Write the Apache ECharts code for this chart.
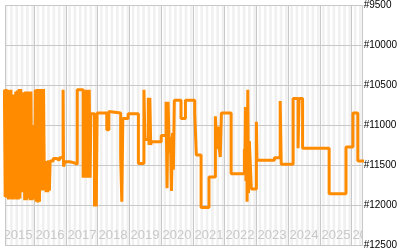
<!DOCTYPE html>
<html>
<head>
<meta charset="utf-8">
<script src="https://cdn.jsdelivr.net/npm/echarts@6/dist/echarts.min.js"></script>
<style>html,body{margin:0;padding:0;background:#fff}#c{width:400px;height:250px}</style>
</head>
<body>
<div id="c"></div>
<script>
const dates = ['2015-01-25','2015-02-03','2015-02-12','2015-02-22','2015-03-03','2015-03-13','2015-03-22','2015-04-01','2015-04-10','2015-04-20','2015-04-28','2015-05-08','2015-05-17','2015-05-27','2015-06-05','2015-06-15','2015-06-24','2015-07-04','2015-07-13','2015-07-23','2015-08-01','2015-08-10','2015-08-19','2015-08-28','2015-09-06','2015-09-16','2015-09-25','2015-10-05','2015-10-14','2015-10-23','2015-10-30','2015-11-04','2015-11-09','2015-11-18','2015-11-27','2015-12-06','2015-12-14','2015-12-22','2015-12-30','2016-01-08','2016-01-16','2016-01-26','2016-02-04','2016-02-14','2016-02-23','2016-03-04','2016-03-13','2016-03-23','2016-04-01','2016-04-11','2016-04-20','2016-04-30','2016-05-09','2016-05-19','2016-05-28','2016-06-07','2016-06-16','2016-06-26','2016-07-05','2016-08-10','2016-09-20','2016-10-20','2016-12-01','2016-12-06','2016-12-20','2017-02-15','2017-03-05','2017-04-01','2017-05-13','2017-07-20','2017-07-30','2017-08-09','2017-08-19','2017-08-29','2017-09-08','2017-09-18','2017-09-28','2017-10-08','2017-10-17','2017-11-28','2017-12-08','2017-12-18','2017-12-28','2018-04-18','2018-05-12','2018-05-25','2018-09-25','2018-10-08','2018-10-20','2018-12-20','2019-04-17','2019-06-20','2019-07-01','2019-08-09','2019-08-18','2019-08-27','2019-09-06','2019-09-15','2020-01-05','2020-03-01','2020-03-12','2020-03-24','2020-04-08','2020-04-20','2020-05-02','2020-05-14','2020-05-24','2020-06-04','2020-08-20','2020-10-10','2021-01-25','2021-02-12','2021-04-08','2021-07-08','2021-09-20','2021-10-05','2021-10-20','2021-11-05','2021-11-15','2021-11-28','2022-03-20','2022-08-20','2022-08-26','2022-09-01','2022-09-07','2022-09-13','2022-09-20','2022-09-28','2022-10-06','2022-10-16','2022-11-08','2023-01-05','2023-01-12','2023-08-01','2023-10-06','2023-10-18','2024-03-03','2024-04-29','2024-05-11','2024-06-20','2025-04-22','2025-11-02','2026-01-21','2026-03-18','2026-06-01'];
const ranks = [10560,11900,10550,11910,10560,11930,10570,11920,10560,11930,10620,11930,10620,11920,10580,11930,10570,11930,10550,11920,10550,11840,10600,11840,10590,11940,10580,11940,10580,11900,11500,11920,10580,11940,10580,11940,11000,11900,11000,11930,10560,11960,10550,11970,10550,11960,10550,11820,10550,11820,10550,11810,11450,11840,11450,11840,11440,11820,11450,11420,11440,11410,10560,11520,11460,11440,11470,11490,10560,11660,10560,11660,10560,11660,10560,11660,10560,11660,10860,12020,10860,12020,10850,11060,10830,10850,11400,11960,10920,10860,11480,10560,11180,10660,11250,10660,11250,11210,11130,10710,11790,10710,11350,11150,11825,11100,11560,10690,10920,10690,10850,11375,12030,11650,10890,11300,11020,11300,11400,10850,11610,11300,11500,10775,11700,10800,11960,10560,11850,11200,11800,10960,11440,11410,10700,11490,10670,11290,10670,11290,11860,11275,10850,11450,11450];
const yearTicks = ['2015-01-01','2016-01-01','2017-01-01','2018-01-01','2019-01-01','2020-01-01','2021-01-01','2022-01-01','2023-01-01','2024-01-01','2025-01-01','2026-01-01'];
const yearLabels = ['2015','2016','2017','2018','2019','2020','2021','2022','2023','2024','2025','2026'];
const yTicks = [9500,10000,10500,11000,11500,12000,12500];
const xMin = '2015-02-01', xMax = '2026-05-01';

const lineData = dates.map((d, i) => [d, ranks[i]]);
const LINE = '#c8c8c8', STRIPE = '#f0f0f0';

function bgRender(params, api) {
  const cs = params.coordSys;
  const left = cs.x, right = cs.x + cs.width, top = cs.y, bottom = cs.y + cs.height;
  const ch = [];
  for (let y = 2015; y <= 2026; y++) {
    for (let m = 0; m < 12; m++) {
      if (m % 2 !== 1) continue;
      let x0 = api.coord([new Date(y, m, 1), yTicks[0]])[0];
      let x1 = api.coord([new Date(y, m + 1, 1), yTicks[0]])[0];
      x0 = Math.max(x0, left); x1 = Math.min(x1, right);
      if (x1 <= x0) continue;
      ch.push({type: 'rect', shape: {x: x0, y: top, width: x1 - x0, height: bottom - top}, style: {fill: STRIPE}});
    }
  }
  yTicks.forEach(v => {
    const py = Math.round(api.coord([xMin, v])[1]) + 0.5;
    ch.push({type: 'line', shape: {x1: left, y1: py, x2: right, y2: py}, style: {stroke: LINE, lineWidth: 1}});
  });
  yearTicks.forEach(d => {
    const px = api.coord([d, yTicks[0]])[0];
    if (px < left || px > right) return;
    const sx = Math.round(px) + 0.5;
    ch.push({type: 'line', shape: {x1: sx, y1: top, x2: sx, y2: bottom}, style: {stroke: LINE, lineWidth: 1}});
  });
  ch.push({type: 'rect', shape: {x: Math.round(left) + 0.5, y: Math.round(top) + 0.5, width: Math.round(right - left), height: Math.round(bottom - top)}, style: {fill: null, stroke: LINE, lineWidth: 1}});
  return {type: 'group', children: ch};
}

function labelRender(params, api) {
  const cs = params.coordSys;
  const ch = yearTicks.map((d, i) => {
    const px = api.coord([d, yTicks[0]])[0];
    return {type: 'text', style: {text: yearLabels[i], x: Math.round(px) + 1.5, y: cs.y + cs.height - 10, fill: '#c8c8c8', font: '13px "Liberation Sans", Arial, sans-serif', align: 'left', verticalAlign: 'middle'}};
  });
  return {type: 'group', children: ch};
}

const chart = echarts.init(document.getElementById('c'), null, {renderer: 'canvas'});
chart.setOption({
  animation: false,
  grid: {left: 5, right: 34, top: 5, bottom: 5, containLabel: false},
  xAxis: {type: 'time', min: xMin, max: xMax, show: false},
  yAxis: {
    type: 'value', inverse: true, min: 9500, max: 12500, interval: 500, position: 'right',
    axisLine: {show: false}, axisTick: {show: false}, splitLine: {show: false},
    axisLabel: {formatter: v => '#' + v, color: '#000', fontSize: 10, fontFamily: '"Liberation Sans", Arial, sans-serif', margin: 2}
  },
  series: [
    {type: 'custom', renderItem: bgRender, data: [[yearTicks[1], yTicks[0]]], z: 1, silent: true, clip: false},
    {type: 'custom', renderItem: labelRender, data: [[yearTicks[1], yTicks[0]]], z: 2, silent: true, clip: true},
    {type: 'line', step: 'end', data: lineData, showSymbol: false, symbol: 'none', lineStyle: {color: '#ff8c00', width: 3}, itemStyle: {color: '#ff8c00'}, z: 3, clip: true}
  ]
});
</script>
</body>
</html>
